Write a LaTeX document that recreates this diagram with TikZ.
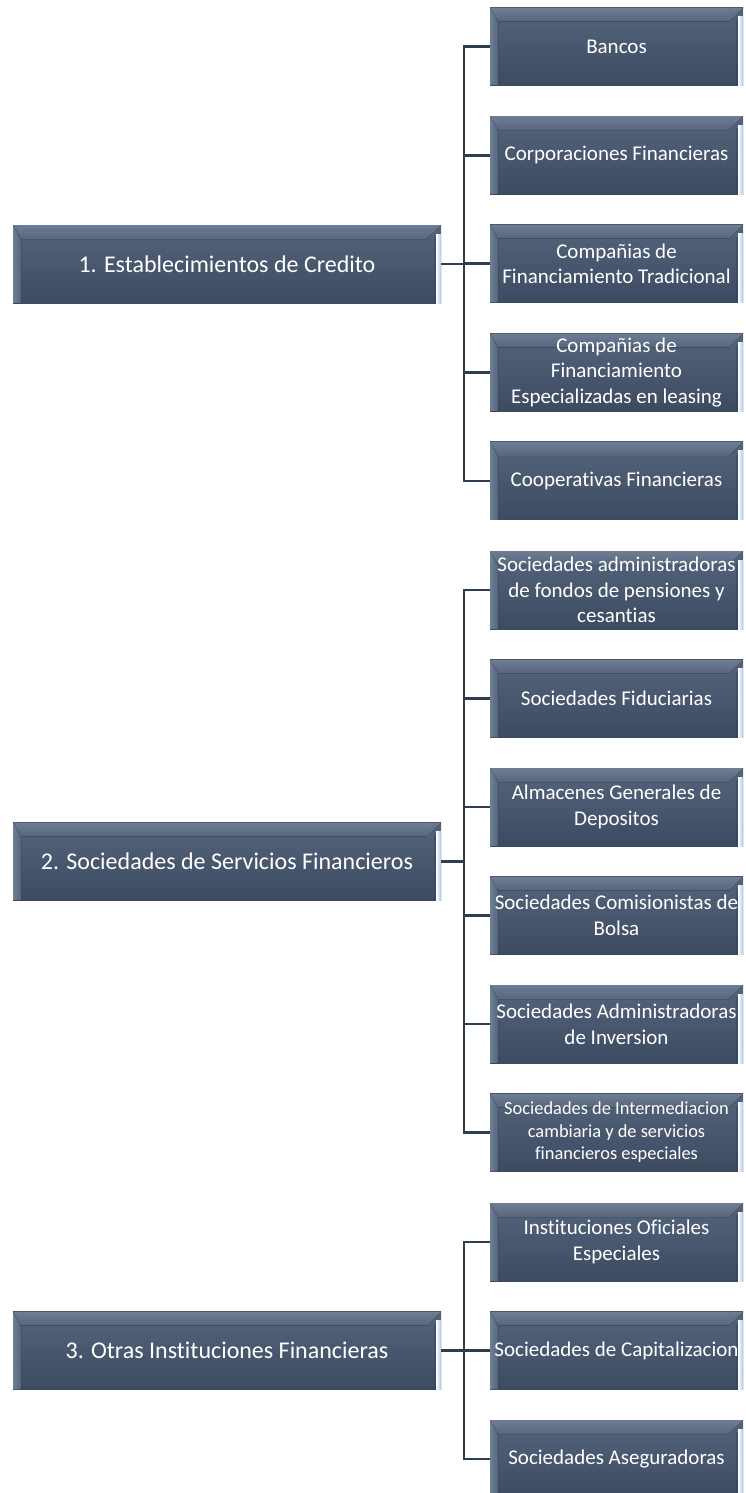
\documentclass[tikz,border=0pt]{standalone}
\usepackage{fontspec}
\setmainfont{Carlito}[Ligatures={NoCommon}]
\definecolor{bodyT}{HTML}{54647B}
\definecolor{bodyB}{HTML}{3D4B61}
\definecolor{bevTop}{HTML}{6E7D93}
\definecolor{bevMid}{HTML}{A9B6C7}
\definecolor{bevBot}{HTML}{56667D}
\definecolor{bevLeft}{HTML}{6F7F96}
\definecolor{hiBlue}{HTML}{A8C8EA}
\definecolor{connC}{HTML}{2F3D51}
\tikzset{
  x=1pt, y=-1pt,
  bevelbox/.style={draw=none, inner sep=0pt, text=white, align=center,
    path picture={
      \fill[top color=bodyT,bottom color=bodyB]
        (path picture bounding box.south west) rectangle (path picture bounding box.north east);
      \fill[left color=bevLeft,right color=bodyT]
        (path picture bounding box.north west) -- ([shift={(8,12)}]path picture bounding box.north west)
        -- ([shift={(8,0)}]path picture bounding box.south west) -- (path picture bounding box.south west) -- cycle;
      \fill[top color=bevTop,middle color=bevMid,bottom color=bevBot]
        (path picture bounding box.north west) -- (path picture bounding box.north east)
        -- ([shift={(-14,14)}]path picture bounding box.north east)
        -- ([shift={(8,14)}]path picture bounding box.north west) -- cycle;
      \fill[bodyB!80!black,opacity=0.4]
        ([shift={(-7,12)}]path picture bounding box.north east) rectangle ([shift={(-5,0)}]path picture bounding box.south east);
      \fill[left color=white,right color=hiBlue]
        ([shift={(-5,9)}]path picture bounding box.north east) rectangle (path picture bounding box.south east);
    }},
  rbox/.style={bevelbox, minimum width=253, minimum height=78, font=\fontsize{21}{25.6}\selectfont},
  lbox/.style={bevelbox, minimum width=428, minimum height=78, font=\fontsize{24}{29}\selectfont},
  conn/.style={draw=connC, line width=2.8pt, line join=miter}
}
\begin{document}
\begin{tikzpicture}
\useasboundingbox (0,0) rectangle (745,1493);
% parents
\node[lbox] (p1) at (227,264) {1. Establecimientos de Credito};
\node[lbox] (p2) at (227,861.25) {2. Sociedades de Servicios Financieros};
\node[lbox] (p3) at (227,1350.5) {3. Otras Instituciones Financieras};
% group 1
\node[rbox] (c11) at (616.5,46.5) {Bancos};
\node[rbox] (c12) at (616.5,155.1) {Corporaciones Financieras};
\node[rbox] (c13) at (616.5,263.7) {Compañias de\\Financiamiento Tradicional};
\node[rbox] (c14) at (616.5,372.3) {Compañias de\\Financiamiento\\Especializadas en leasing};
\node[rbox] (c15) at (616.5,480.9) {Cooperativas Financieras};
% group 2
\node[rbox] (c21) at (616.5,590) {Sociedades administradoras\\de fondos de pensiones y\\cesantias};
\node[rbox] (c22) at (616.5,698.5) {Sociedades Fiduciarias};
\node[rbox] (c23) at (616.5,807) {Almacenes Generales de\\Depositos};
\node[rbox] (c24) at (616.5,915.5) {Sociedades Comisionistas de\\Bolsa};
\node[rbox] (c25) at (616.5,1024) {Sociedades Administradoras\\de Inversion};
\node[rbox, font=\fontsize{18.4}{22.5}\selectfont] (c26) at (616.5,1132.5) {Sociedades de Intermediacion\\cambiaria y de servicios\\financieros especiales};
% group 3
\node[rbox] (c31) at (616.5,1242) {Instituciones Oficiales\\Especiales};
\node[rbox] (c32) at (616.5,1350.5) {Sociedades de Capitalizacion};
\node[rbox] (c33) at (616.5,1459) {Sociedades Aseguradoras};
% junctions
\coordinate (j1) at (464,264);
\coordinate (j2) at (464,861.25);
\coordinate (j3) at (464,1350.5);
% connectors group 1
\draw[conn] (p1.east) -- (j1);
\draw[conn] (c11.west) -- (c11.west -| j1) -- (c15.west -| j1) -- (c15.west);
\foreach \c in {c12,c13,c14} \draw[conn] (\c.west -| j1) -- (\c.west);
% connectors group 2
\draw[conn] (p2.east) -- (j2);
\draw[conn] (c21.west) -- (c21.west -| j2) -- (c26.west -| j2) -- (c26.west);
\foreach \c in {c22,c23,c24,c25} \draw[conn] (\c.west -| j2) -- (\c.west);
% connectors group 3
\draw[conn] (p3.east) -- (j3);
\draw[conn] (c31.west) -- (c31.west -| j3) -- (c33.west -| j3) -- (c33.west);
\draw[conn] (c32.west -| j3) -- (c32.west);
\end{tikzpicture}
\end{document}
